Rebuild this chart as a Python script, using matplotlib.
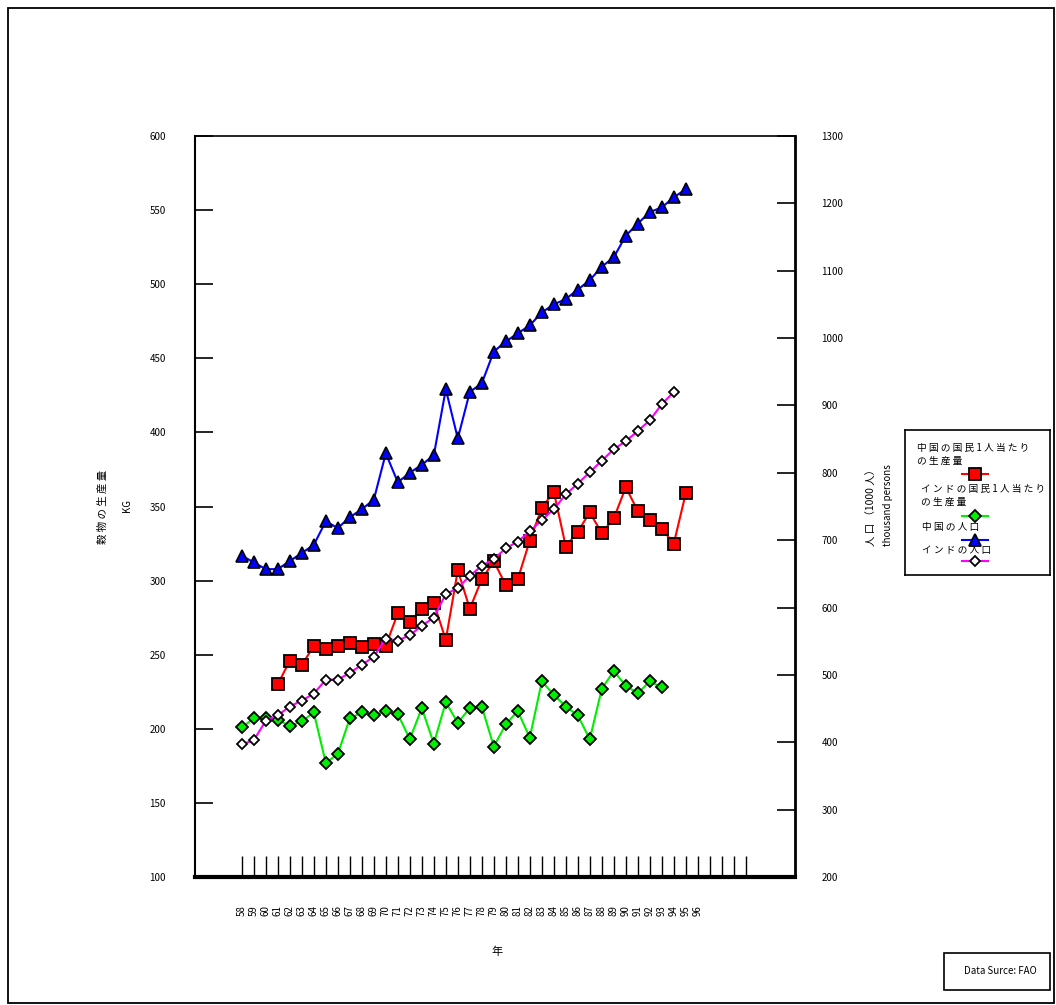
import matplotlib
matplotlib.use("Agg")
import matplotlib.pyplot as plt
from matplotlib.lines import Line2D
from matplotlib.patches import Rectangle

plt.rcParams["font.family"] = ["Noto Sans CJK JP", "DejaVu Sans"]

# --- data ---
china_pop_years = list(range(58, 96))
china_pop = [677, 667, 657, 657, 669, 681, 693, 728, 718, 734, 746, 760, 829,
             786, 800, 812, 826, 924, 851, 920, 933, 980, 995, 1007, 1019, 1038,
             1050, 1058, 1072, 1086, 1106, 1120, 1152, 1170, 1187, 1194, 1209, 1221]

india_pop_years = list(range(58, 95))
india_pop = [397, 403, 432, 440, 453, 462, 472, 493, 493, 503, 515, 527, 554,
             551, 559, 573, 585, 620, 629, 647, 662, 672, 688, 698, 713, 730,
             746, 768, 784, 801, 818, 835, 847, 862, 878, 902, 920]

china_grain_years = list(range(61, 96))
china_grain = [230, 246, 243, 256, 254, 256, 258, 255, 257, 256, 278, 272, 281,
               285, 260, 307, 281, 301, 313, 297, 301, 327, 349, 360, 323, 333,
               346, 332, 342, 363, 347, 341, 335, 325, 359]

india_grain_years = list(range(58, 94))
india_grain = [201, 207, 207, 206, 202, 205, 211, 177, 183, 207, 211, 209, 212,
               210, 193, 214, 190, 218, 204, 214, 215, 188, 203, 212, 194, 232,
               223, 215, 209, 193, 227, 239, 229, 224, 232, 228]

tick_years = list(range(58, 101))
tick_labels = [str(y) if y <= 96 else "" for y in tick_years]

legend_labels = [["中 国 の 国 民 1 人 当 た り", "の 生 産 量"],
                 ["イ ン ド の 国 民 1 人 当 た り", "の 生 産 量"],
                 ["中 国 の 人 口"],
                 ["イ ン ド の 人 口"]]

W, H = 1056, 1005
fig = plt.figure(figsize=(W / 100, H / 100), dpi=100)


def fx(px):
    return px / W


def fy(py):
    return 1 - py / H


ax = fig.add_axes([fx(195), fy(877), fx(795) - fx(195), fy(136) - fy(877)])
ax2 = ax.twinx()

# left axis series
ax.plot(india_grain_years, india_grain, color="#00ee00", lw=1.5, marker="D",
        markersize=6, markerfacecolor="#00ee00", markeredgecolor="black",
        markeredgewidth=1.3, zorder=3)
ax.plot(china_grain_years, china_grain, color="red", lw=1.5, marker="s",
        markersize=8.5, markerfacecolor="red", markeredgecolor="black",
        markeredgewidth=1.3, zorder=4)

# right axis series
ax2.plot(china_pop_years, china_pop, color="blue", lw=1.5, marker="^",
         markersize=8.5, markerfacecolor="blue", markeredgecolor="black",
         markeredgewidth=1.2)
ax2.plot(india_pop_years, india_pop, color="magenta", lw=1.5, marker="D",
         markersize=5, markerfacecolor="white", markeredgecolor="black",
         markeredgewidth=1.3)

ax.set_xlim(54.1, 104.1)
ax.set_ylim(100, 600)
ax2.set_ylim(200, 1300)

ax.set_xticks(tick_years)
ax.set_xticklabels(tick_labels, rotation=90, fontsize=7)
ax.set_yticks(range(100, 601, 50))
ax.tick_params(axis="y", direction="in", length=13, width=1.2, pad=21, labelsize=7)
ax.tick_params(axis="x", direction="in", length=15, width=1, pad=20, labelsize=7)

ax2.set_yticks(range(200, 1301, 100))
ax2.tick_params(axis="y", direction="in", length=13, width=1.2, pad=19, labelsize=7)
ax2.tick_params(axis="x", length=0, labelbottom=False)

for s in ax.spines.values():
    s.set_visible(False)
ax.spines["left"].set_visible(True)
ax.spines["left"].set_linewidth(1.5)
ax.spines["bottom"].set_visible(True)
ax.spines["bottom"].set_linewidth(3)
ax.spines["top"].set_visible(True)
ax.spines["top"].set_linewidth(1.2)
for name, s in ax2.spines.items():
    s.set_visible(name == "right")
ax2.spines["right"].set_linewidth(2)

# axis titles
fig.text(fx(103), fy(507), "穀 物 の 生 産 量", rotation=90, fontsize=7.5,
         ha="center", va="center")
fig.text(fx(127), fy(505), "KG", rotation=90, fontsize=7, ha="center", va="center")
fig.text(fx(872), fy(505), "人 口 （1000 人）", rotation=90, fontsize=7.5,
         ha="center", va="center")
fig.text(fx(888), fy(505), "thousand persons", rotation=90, fontsize=7,
         ha="center", va="center")
fig.text(fx(497), fy(952), "年", fontsize=8, ha="center", va="center")

# legend box
lg = fig.add_axes([fx(905), fy(575), fx(1050) - fx(905), fy(430) - fy(575)])
lg.set_xlim(0, 145)
lg.set_ylim(145, 0)
lg.set_xticks([])
lg.set_yticks([])
for s in lg.spines.values():
    s.set_linewidth(1.2)

legend_styles = [
    dict(color="red", marker="s", markersize=9, markerfacecolor="red"),
    dict(color="#00ee00", marker="D", markersize=6, markerfacecolor="#00ee00"),
    dict(color="blue", marker="^", markersize=8.5, markerfacecolor="blue"),
    dict(color="magenta", marker="D", markersize=5, markerfacecolor="white"),
]
text_y = [18, 59, 97, 120]
sample_y = [44, 86, 110, 131]
text_x = [12, 16, 17, 17]
for lines, sty, ty, sy, tx in zip(legend_labels, legend_styles, text_y, sample_y, text_x):
    for i, line in enumerate(lines):
        lg.text(tx, ty + 12.5 * i, line, fontsize=7, ha="left", va="center")
    lg.add_line(Line2D([57, 83], [sy, sy], lw=1.5, color=sty["color"]))
    lg.add_line(Line2D([70], [sy], marker=sty["marker"], markersize=sty["markersize"],
                       markerfacecolor=sty["markerfacecolor"],
                       markeredgecolor="black", markeredgewidth=1.3, lw=0))

# data source box
fig.patches.append(Rectangle((fx(944), fy(990)), fx(1050) - fx(944), fy(953) - fy(990),
                             transform=fig.transFigure, fill=False, lw=1.2,
                             edgecolor="black"))
fig.text(fx(1000), fy(971), "Data Surce: FAO", fontsize=7, ha="center", va="center")

# outer border
fig.patches.append(Rectangle((fx(8), fy(1003)), fx(1054) - fx(8), fy(8) - fy(1003),
                             transform=fig.transFigure, fill=False, lw=1.3,
                             edgecolor="black"))

fig.savefig("out.png", dpi=100)
